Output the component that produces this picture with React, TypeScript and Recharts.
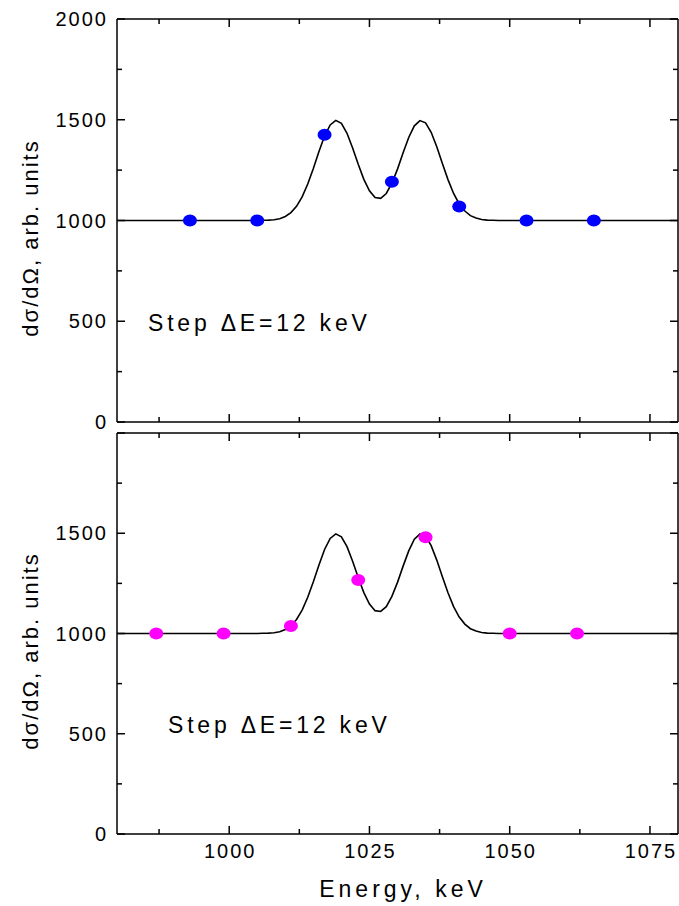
import React from "react";
import { ComposedChart, Line, Scatter, XAxis, YAxis } from "recharts";

// ---- data ----
const energyTicks = [987.5, 1000, 1012.5, 1025, 1037.5, 1050, 1062.5, 1075];
const yTicks = [0, 250, 500, 750, 1000, 1250, 1500, 1750, 2000];

// fitted curve (same in both panels), energy keV / cross section
const curveEnergy = [980, 1004, 1005, 1006, 1007, 1008, 1009, 1010, 1011, 1012, 1013, 1014, 1015, 1016, 1017, 1018, 1019, 1020, 1021, 1022, 1023, 1024, 1025, 1026, 1027, 1028, 1029, 1030, 1031, 1032, 1033, 1034, 1035, 1036, 1037, 1038, 1039, 1040, 1041, 1042, 1043, 1044, 1045, 1046, 1047, 1048, 1080];
const curveValue = [1000, 1000, 1000, 1001, 1002, 1004, 1009, 1020, 1039, 1070, 1117, 1181, 1258, 1342, 1419, 1474, 1497, 1482, 1433, 1360, 1279, 1204, 1147, 1114, 1110, 1134, 1185, 1255, 1336, 1412, 1470, 1496, 1485, 1438, 1366, 1283, 1203, 1134, 1082, 1047, 1024, 1012, 1005, 1002, 1001, 1000, 1000];

// top panel measured points (blue)
const topEnergy = [993, 1005, 1017, 1029, 1041, 1053, 1065];
const topValue = [1000, 1000, 1425, 1192, 1070, 1000, 1000];

// bottom panel measured points (magenta)
const bottomEnergy = [987, 999, 1011, 1023, 1035, 1050, 1062];
const bottomValue = [1000, 1000, 1037, 1267, 1480, 1000, 1000];

const curve = curveEnergy.map((x, i) => ({ x, y: curveValue[i] }));
const topPts = topEnergy.map((x, i) => ({ x, y: topValue[i] }));
const bottomPts = bottomEnergy.map((x, i) => ({ x, y: bottomValue[i] }));

const FONT = "'Liberation Sans', Arial, Helvetica, sans-serif";
const SW = 1.5;

const LeftTick = (props: any) => {
  const { x, y, payload, labelMax } = props;
  const v = payload.value;
  const major = v % 500 === 0;
  return (
    <g>
      <line x1={x} x2={x + (major ? 8 : 5)} y1={y} y2={y} stroke="#000" strokeWidth={SW} />
      {major && v <= labelMax && (
        <text x={x - 9} y={y + 7} textAnchor="end" fontFamily={FONT} fontSize={20} letterSpacing={2} fill="#000">
          {v}
        </text>
      )}
    </g>
  );
};

const RightTick = (props: any) => {
  const { x, y, payload } = props;
  const major = payload.value % 500 === 0;
  return <line x1={x} x2={x - (major ? 8 : 5)} y1={y} y2={y} stroke="#000" strokeWidth={SW} />;
};

const TopTick = (props: any) => {
  const { x, y, payload } = props;
  const major = payload.value % 25 === 0;
  return <line x1={x} x2={x} y1={y} y2={y + (major ? 8 : 5)} stroke="#000" strokeWidth={SW} />;
};

const BottomTick = (props: any) => {
  const { x, y, payload, showLabel } = props;
  const v = payload.value;
  const major = v % 25 === 0;
  return (
    <g>
      <line x1={x} x2={x} y1={y} y2={y - (major ? 8 : 5)} stroke="#000" strokeWidth={SW} />
      {major && showLabel && (
        <text x={x + 1} y={y + 24} textAnchor="middle" fontFamily={FONT} fontSize={20} letterSpacing={2} fill="#000">
          {v}
        </text>
      )}
    </g>
  );
};

const dot = (color: string) => (p: any) => <ellipse cx={p.cx} cy={p.cy} rx={7} ry={6} fill={color} />;
const none = () => <g />;

const Panel = ({ pts, color, height, margin, labelMax, showX }: any) => (
  <ComposedChart width={679} height={height} margin={margin}>
    <XAxis xAxisId={0} dataKey="x" type="number" domain={[980, 1080]} ticks={energyTicks} interval={0}
      orientation="bottom" height={1} tickSize={0} tickMargin={0}
      axisLine={{ stroke: "#000", strokeWidth: SW }} tickLine={false}
      tick={<BottomTick showLabel={showX} />} allowDataOverflow />
    <XAxis xAxisId="top" dataKey="x" type="number" domain={[980, 1080]} ticks={energyTicks} interval={0}
      orientation="top" height={1} tickSize={0} tickMargin={0}
      axisLine={{ stroke: "#000", strokeWidth: SW }} tickLine={false} tick={<TopTick />} allowDataOverflow />
    <YAxis yAxisId={0} dataKey="y" type="number" domain={[0, 2000]} ticks={yTicks} interval={0}
      orientation="left" width={60} tickSize={0} tickMargin={0}
      axisLine={{ stroke: "#000", strokeWidth: SW }} tickLine={false}
      tick={<LeftTick labelMax={labelMax} />} allowDataOverflow />
    <YAxis yAxisId="right" dataKey="y" type="number" domain={[0, 2000]} ticks={yTicks} interval={0}
      orientation="right" width={1} tickSize={0} tickMargin={0}
      axisLine={{ stroke: "#000", strokeWidth: SW }} tickLine={false} tick={<RightTick />} allowDataOverflow />
    <Line data={curve} dataKey="y" type="linear" stroke="#000" strokeWidth={1.6} dot={false}
      activeDot={false} isAnimationActive={false} />
    <Scatter data={pts} dataKey="y" shape={dot(color)} isAnimationActive={false} />
    <Scatter data={pts} dataKey="y" xAxisId="top" yAxisId="right" shape={none} isAnimationActive={false} />
  </ComposedChart>
);

export default function App() {
  return (
    <div style={{ position: "absolute", left: 0, top: 0, width: 679, height: 906, background: "#fff" }}>
      <div style={{ position: "absolute", left: 0, top: 0 }}>
        <Panel pts={topPts} color="#0000ff" height={445}
          margin={{ top: 18, right: 0, bottom: 22, left: 57 }} labelMax={2000} showX={false} />
      </div>
      <div style={{ position: "absolute", left: 0, top: 420 }}>
        <Panel pts={bottomPts} color="#ff00ff" height={486}
          margin={{ top: 12, right: 0, bottom: 71, left: 57 }} labelMax={1500} showX={true} />
      </div>
      <svg width={679} height={906} style={{ position: "absolute", left: 0, top: 0, pointerEvents: "none" }}>
        <text x={148} y={331} fontFamily={FONT} fontSize={23} letterSpacing={3.8} fill="#000">Step ΔE=12 keV</text>
        <text x={168} y={733} fontFamily={FONT} fontSize={23} letterSpacing={3.8} fill="#000">Step ΔE=12 keV</text>
        <text x={403} y={897} textAnchor="middle" fontFamily={FONT} fontSize={23} letterSpacing={4} fill="#000">Energy, keV</text>
        <text x={30} y={238} textAnchor="middle" dominantBaseline="central" transform="rotate(-90 30 238)"
          fontFamily={FONT} fontSize={22} letterSpacing={2} fill="#000">dσ/dΩ, arb. units</text>
        <text x={30} y={651} textAnchor="middle" dominantBaseline="central" transform="rotate(-90 30 651)"
          fontFamily={FONT} fontSize={22} letterSpacing={2} fill="#000">dσ/dΩ, arb. units</text>
      </svg>
    </div>
  );
}
